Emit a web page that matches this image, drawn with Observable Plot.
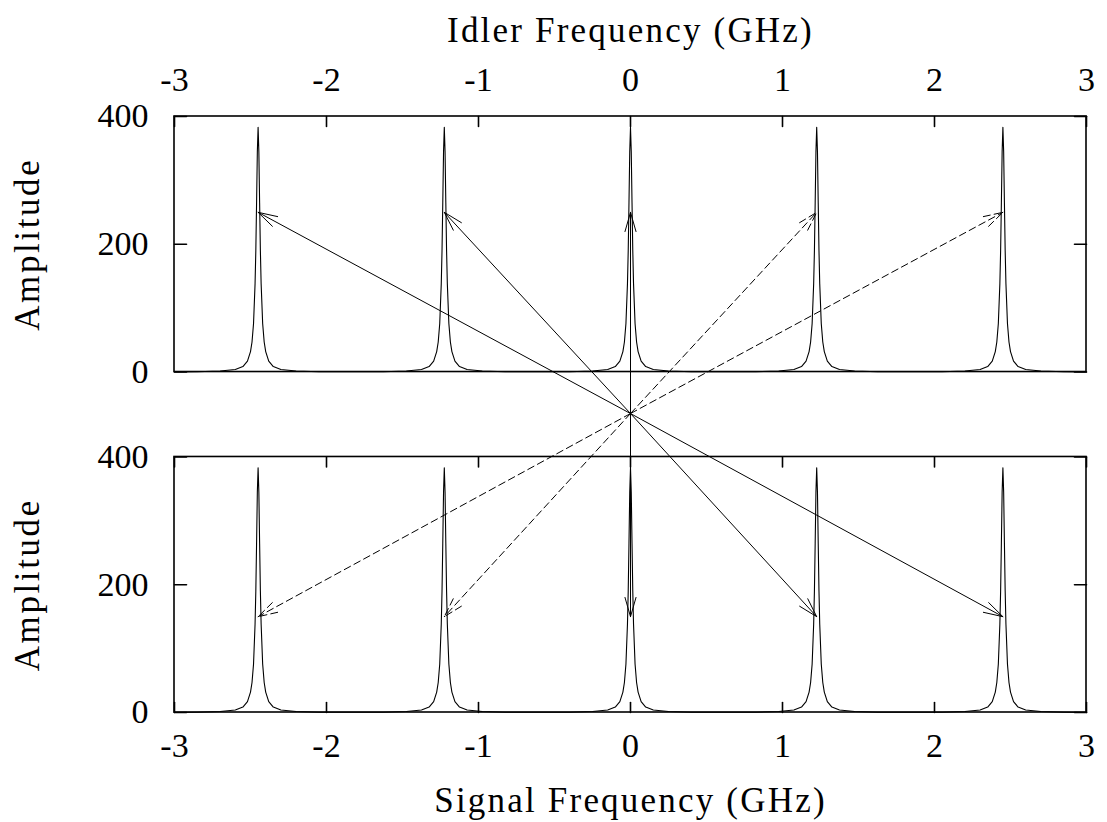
<!DOCTYPE html>
<html><head><meta charset="utf-8">
<script src="https://cdn.jsdelivr.net/npm/d3@7"></script>
<script src="https://cdn.jsdelivr.net/npm/@observablehq/plot@0.6"></script>
<style>body{margin:0;background:#fff}</style>
</head><body><div id="chart"></div>
<script>
// ---- data ----
const peakCenters = [-2.45, -1.225, 0, 1.225, 2.45];           // GHz
const profileOffsets = [0, 0.005, 0.01, 0.015, 0.02, 0.03, 0.04, 0.05, 0.07, 0.1, 0.15, 0.25, 0.4];
const profileAmplitudes = [383, 345, 265, 190, 138, 76, 47, 32, 17, 8.5, 4, 1.5, 0.5];
const idlerArrowTargets = [-2.45, -1.225, 0, 1.225, 2.45];
const idlerArrowDashed = [false, false, false, true, true];
const idlerArrowAmplitude = 250;
const signalArrowTargets = [-2.45, -1.225, 0, 1.225, 2.45];
const signalArrowDashed = [true, true, false, false, false];
const signalArrowAmplitude = 150;
const xTicks = [-3, -2, -1, 0, 1, 2, 3];
const xTickLabels = ["-3", "-2", "-1", "0", "1", "2", "3"];
const yTicks = [0, 200, 400];
const yTickLabels = ["0", "200", "400"];
const topTitle = "Idler Frequency (GHz)";
const bottomTitle = "Signal Frequency (GHz)";
const yTitle = "Amplitude";

// ---- layout (combined y coordinate: signal panel 0..400, idler panel shifted up) ----
const TOP = 533, YMAX = 933, GAP = 468, XMIN = -3, XMAX = 3;
const FONT = "Liberation Serif";
const FS = 34, TFS = 35;

function panelCurve(offset, name) {
  const pts = [{x: XMIN, y: offset, panel: name}];
  for (const c of peakCenters) {
    for (let i = profileOffsets.length - 1; i > 0; i--) pts.push({x: c - profileOffsets[i], y: profileAmplitudes[i] + offset, panel: name});
    for (let i = 0; i < profileOffsets.length; i++) pts.push({x: c + profileOffsets[i], y: profileAmplitudes[i] + offset, panel: name});
  }
  pts.push({x: XMAX, y: offset, panel: name});
  return pts;
}
const curves = [...panelCurve(TOP, "idler"), ...panelCurve(0, "signal")];

const arrows = [
  ...idlerArrowTargets.map((x, i) => ({x, y: idlerArrowAmplitude + TOP, dashed: idlerArrowDashed[i]})),
  ...signalArrowTargets.map((x, i) => ({x, y: signalArrowAmplitude, dashed: signalArrowDashed[i]}))
];
const panels = [{y1: 0, y2: 400}, {y1: TOP, y2: TOP + 400}];

const tickShape = {draw(ctx, l) { ctx.moveTo(0, 0); ctx.lineTo(0, -l); }};
const tickStyle = {stroke: "black", strokeWidth: 1.6, anchor: "start", shape: tickShape};

const chart = Plot.plot({
  width: 1107, height: 822,
  marginLeft: 174, marginRight: 21, marginTop: 116, marginBottom: 110,
  style: {fontFamily: FONT, background: "white", color: "black"},
  x: {domain: [XMIN, XMAX], axis: null},
  y: {domain: [0, YMAX], axis: null},
  marks: [
    Plot.line(curves, {x: "x", y: "y", z: "panel", stroke: "black", strokeWidth: 1.1}),
    Plot.arrow(arrows.filter(d => !d.dashed), {x1: 0, y1: GAP, x2: "x", y2: "y", stroke: "black", strokeWidth: 1, headLength: 30, headAngle: 32}),
    Plot.arrow(arrows.filter(d => d.dashed), {x1: 0, y1: GAP, x2: "x", y2: "y", stroke: "black", strokeWidth: 1, headLength: 30, headAngle: 32, strokeDasharray: "7,4"}),
    Plot.rect(panels, {x1: XMIN, x2: XMAX, y1: "y1", y2: "y2", fill: "none", stroke: "black", strokeWidth: 1.6}),
    // x ticks: top edge of idler panel, top & bottom edges of signal panel
    Plot.vector(xTicks, {x: d => d, y: TOP + 400, length: 10, rotate: 180, ...tickStyle}),
    Plot.vector(xTicks, {x: d => d, y: 400, length: 10, rotate: 180, ...tickStyle}),
    Plot.vector(xTicks, {x: d => d, y: 0, length: 10, rotate: 0, ...tickStyle}),
    // y ticks: left and right of both panels
    Plot.vector(yTicks, {x: XMIN, y: d => d, length: 12, rotate: 90, ...tickStyle}),
    Plot.vector(yTicks, {x: XMAX, y: d => d, length: 12, rotate: -90, ...tickStyle}),
    Plot.vector(yTicks, {x: XMIN, y: d => d + TOP, length: 12, rotate: 90, ...tickStyle}),
    Plot.vector(yTicks, {x: XMAX, y: d => d + TOP, length: 12, rotate: -90, ...tickStyle}),
    // tick labels
    Plot.text(xTicks, {x: d => d, text: (d, i) => xTickLabels[i], frameAnchor: "bottom", dy: 34, lineAnchor: "middle", fontSize: FS}),
    Plot.text(xTicks, {x: d => d, text: (d, i) => xTickLabels[i], frameAnchor: "top", dy: -36, lineAnchor: "middle", fontSize: FS}),
    Plot.text(yTicks, {y: d => d, text: (d, i) => yTickLabels[i], frameAnchor: "left", textAnchor: "end", dx: -26, lineAnchor: "middle", fontSize: FS}),
    Plot.text(yTicks, {y: d => d + TOP, text: (d, i) => yTickLabels[i], frameAnchor: "left", textAnchor: "end", dx: -26, lineAnchor: "middle", fontSize: FS}),
    // axis titles
    Plot.text([yTitle], {text: d => d, y: 200, frameAnchor: "left", textAnchor: "middle", dx: -147, rotate: -90, lineAnchor: "middle", fontSize: TFS}),
    Plot.text([yTitle], {text: d => d, y: 200 + TOP, frameAnchor: "left", textAnchor: "middle", dx: -147, rotate: -90, lineAnchor: "middle", fontSize: TFS}),
    Plot.text([topTitle], {text: d => d, x: 0, frameAnchor: "top", dy: -86, lineAnchor: "middle", fontSize: TFS}),
    Plot.text([bottomTitle], {text: d => d, x: 0, frameAnchor: "bottom", dy: 88, lineAnchor: "middle", fontSize: TFS})
  ]
});
// widen title lettering to approach the wider original typeface
d3.select(chart).selectAll("text").each(function() {
  const t = this.textContent;
  if (t === topTitle || t === bottomTitle) this.setAttribute("letter-spacing", "2.2");
  else if (t === yTitle) this.setAttribute("letter-spacing", "2.6");
});
document.getElementById("chart").appendChild(chart);
</script>
</body></html>
